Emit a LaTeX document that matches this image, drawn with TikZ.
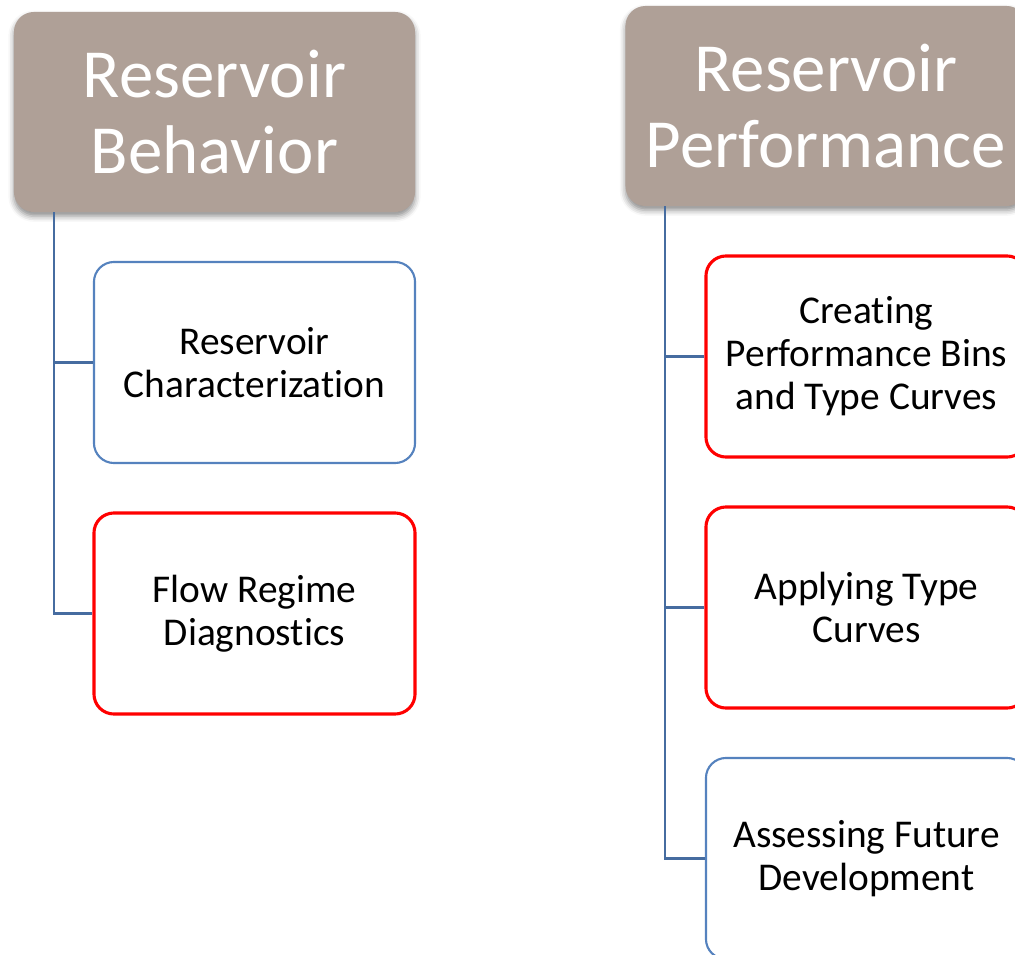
\documentclass[tikz,border=0pt]{standalone}
\usepackage{fontspec}
\setmainfont{Carlito}[Ligatures=NoCommon]
\usepackage{tikz}
\usetikzlibrary{shadows.blur}

\definecolor{headfill}{RGB}{175,160,151}
\definecolor{linkblue}{RGB}{70,108,160}
\definecolor{boxblue}{RGB}{85,130,190}

\tikzset{
  head/.style={rectangle, rounded corners=0.5cm, fill=headfill, text=white,
    minimum width=10.025cm, minimum height=5cm, align=center,
    font=\fontsize{49}{54}\selectfont,
    blur shadow={shadow xshift=0pt, shadow yshift=-3pt, shadow blur radius=4pt, shadow opacity=45}},
  task/.style={rectangle, rounded corners=0.5cm, fill=white,
    minimum width=8.025cm, minimum height=5.025cm, align=center,
    font=\fontsize{28}{30.6}\selectfont},
  plainbox/.style={task, draw=boxblue, line width=1.5pt},
  hotbox/.style={task, draw=red, line width=2.2pt},
  link/.style={draw=linkblue, line width=1.5pt}
}

\begin{document}
\begin{tikzpicture}[x=0.025cm, y=-0.025cm]
        \clip (0,0) rectangle (1015,955);

        % behavior branch
        \node[head] at (214.5, 112) (behav) {Reservoir\\Behavior};
        \node[plainbox] at (254.5, 362.5) (charac) {Reservoir\\Characterization};
        \node[hotbox]   at (254.5, 613.5) (regime) {Flow Regime\\Diagnostics};

        \draw [link] ([xshift=1cm]behav.south west) |- (charac.west);
        \draw [link] ([xshift=1cm]behav.south west) |- (regime.west);

        % performance branch
        \node[head] at (826, 106) (perf) {Reservoir\\Performance};
        \node[hotbox]   at (866.5, 356.5) (bins) {Creating\\Performance Bins\\and Type Curves};
        \node[hotbox]   at (866.5, 607.5) (apply) {Applying Type\\Curves};
        \node[plainbox] at (866.5, 858.5) (future) {Assessing Future\\Development};

        \draw [link] ([xshift=1cm]perf.south west) |- (bins.west);
        \draw [link] ([xshift=1cm]perf.south west) |- (apply.west);
        \draw [link] ([xshift=1cm]perf.south west) |- (future.west);
    \end{tikzpicture}
\end{document}
